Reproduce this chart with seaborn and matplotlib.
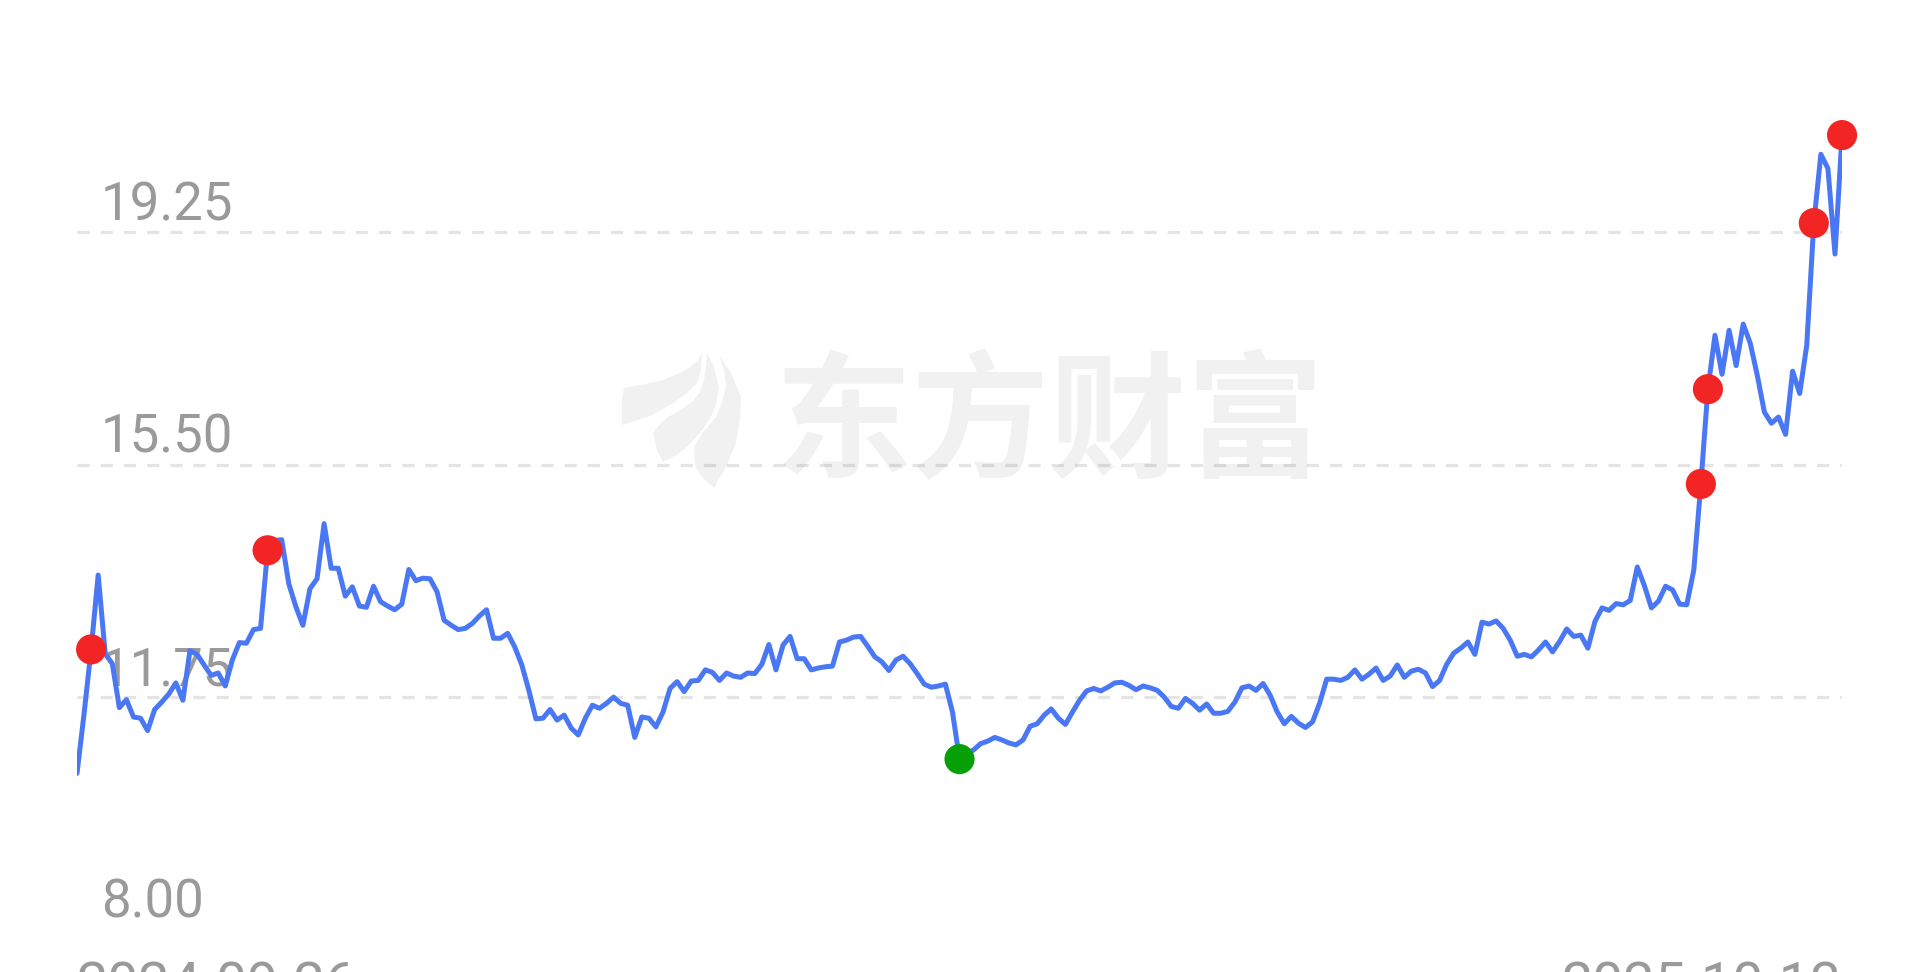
import numpy as np
import pandas as pd
import seaborn as sns
import matplotlib
matplotlib.use("Agg")
from matplotlib import pyplot as plt
from matplotlib import transforms as mtransforms
from matplotlib.patches import Polygon

# 收盘价，按交易日顺序（2024-09-26 ~ 2025-10-13）
close = [
    10.52, 11.48, 12.52, 13.72, 12.45, 12.29, 11.58, 11.71, 11.43, 11.41,
    11.21, 11.55, 11.67, 11.80, 11.98, 11.70, 12.50, 12.44, 12.27, 12.10,
    12.14, 11.93, 12.35, 12.63, 12.62, 12.84, 12.86, 14.12, 14.28, 14.29,
    13.58, 13.21, 12.91, 13.50, 13.66, 14.55, 13.83, 13.83, 13.38, 13.53,
    13.22, 13.20, 13.54, 13.29, 13.22, 13.16, 13.25, 13.81, 13.63, 13.67,
    13.66, 13.45, 12.99, 12.91, 12.84, 12.86, 12.94, 13.06, 13.16, 12.70,
    12.70, 12.78, 12.56, 12.27, 11.86, 11.40, 11.41, 11.55, 11.38, 11.46,
    11.25, 11.14, 11.41, 11.62, 11.57, 11.65, 11.75, 11.65, 11.62, 11.10,
    11.43, 11.41, 11.27, 11.51, 11.89, 12.00, 11.84, 12.01, 12.02, 12.19,
    12.15, 12.02, 12.14, 12.09, 12.07, 12.14, 12.13, 12.28, 12.60, 12.19,
    12.59, 12.73, 12.37, 12.37, 12.19, 12.22, 12.24, 12.25, 12.64, 12.67,
    12.72, 12.73, 12.57, 12.40, 12.32, 12.18, 12.35, 12.41, 12.29, 12.13,
    11.96, 11.91, 11.93, 11.96, 11.51, 10.75, 10.83, 10.90, 11.00, 11.04,
    11.10, 11.06, 11.01, 10.98, 11.06, 11.28, 11.32, 11.46, 11.56, 11.41,
    11.31, 11.51, 11.70, 11.85, 11.89, 11.85, 11.91, 11.98, 11.99, 11.94,
    11.87, 11.93, 11.90, 11.86, 11.75, 11.60, 11.57, 11.73, 11.65, 11.54,
    11.64, 11.49, 11.49, 11.52, 11.67, 11.90, 11.93, 11.86, 11.97, 11.78,
    11.51, 11.32, 11.44, 11.33, 11.26, 11.35, 11.65, 12.04, 12.04, 12.02,
    12.07, 12.19, 12.04, 12.12, 12.22, 12.02, 12.09, 12.27, 12.07, 12.17,
    12.20, 12.14, 11.92, 12.02, 12.28, 12.46, 12.54, 12.64, 12.44, 12.96,
    12.93, 12.98, 12.86, 12.67, 12.41, 12.44, 12.40, 12.51, 12.64, 12.48,
    12.65, 12.85, 12.73, 12.75, 12.54, 12.97, 13.19, 13.15, 13.26, 13.24,
    13.31, 13.85, 13.55, 13.19, 13.30, 13.54, 13.48, 13.25, 13.24, 13.80,
    15.19, 16.72, 17.59, 16.96, 17.67, 17.10, 17.77, 17.46, 16.94, 16.35,
    16.17, 16.27, 15.99, 17.01, 16.65, 17.43, 19.40, 20.51, 20.28, 18.90,
    20.82,
]
day = list(range(len(close)))

red_days = [2, 27, 230, 231, 246, 250]
green_days = [125]

y_ticks = [8.00, 11.75, 15.50, 19.25]
y_top = 23.0
date_labels = ["2024-09-26", "2025-10-13"]
watermark = "东方财富"

sns.set_style("white")
plt.rcParams["font.family"] = ["Roboto", "Noto Sans CJK SC", "DejaVu Sans"]
plt.rcParams["lines.scale_dashes"] = False

W, H = 1920, 972
fig = plt.figure(figsize=(W / 100, H / 100), dpi=100)
ax = fig.add_axes([0.0401, 0.0437, 0.9193, 0.9563])

df = pd.DataFrame({"day": day, "close": close})
sns.lineplot(data=df, x="day", y="close", ax=ax, color="#4a78f5",
             linewidth=3.6, zorder=3, solid_joinstyle="round",
             solid_capstyle="round")

red = df[df["day"].isin(red_days)]
green = df[df["day"].isin(green_days)]
sns.scatterplot(data=red, x="day", y="close", ax=ax, color="#f22424",
                s=470, edgecolor="none", zorder=4, clip_on=False)
sns.scatterplot(data=green, x="day", y="close", ax=ax, color="#08a008",
                s=470, edgecolor="none", zorder=4, clip_on=False)

ax.set_xlim(0, len(close) - 1)
ax.set_ylim(y_ticks[0], y_top)
ax.set_yticks(y_ticks)
ax.set_yticklabels([])
ax.tick_params(axis="y", length=0)
ax.yaxis.grid(True, color="#e4e4e4", linewidth=2.3, linestyle=(0, (8.8, 7.9)))
ax.yaxis.get_gridlines()[0].set_visible(False)
ax.set_xlabel("")
ax.set_ylabel("")

ax.set_xticks([0, len(close) - 1])
ax.set_xticklabels(date_labels)
ax.tick_params(axis="x", length=0, pad=22, labelsize=40, labelcolor="#9a9a9a")
for lab, ha in zip(ax.get_xticklabels(), ["left", "right"]):
    lab.set_ha(ha)

lift = mtransforms.ScaledTranslation(0, 12 / 100, fig.dpi_scale_trans)
for v in y_ticks:
    ax.text(0.0136, v, f"{v:.2f}", transform=ax.get_yaxis_transform() + lift,
            ha="left", va="baseline", fontsize=38, color="#9a9a9a", zorder=2)

sns.despine(ax=ax, left=True, bottom=True)

# 水印：logo + 文字
def px(points):
    return [(x / W, 1 - y / H) for x, y in points]

logo = [
    [(622, 425), (622, 400), (624, 388), (645, 384), (663, 380), (680, 373),
     (692, 366), (698, 360), (702, 353), (701, 370), (697, 383), (686, 394),
     (672, 404), (650, 416)],
    [(707, 353), (714, 367), (719, 387), (716, 405), (711, 417), (700, 433),
     (687, 447), (675, 456), (663, 462), (657, 450), (653, 433), (660, 424),
     (668, 417), (682, 409), (692, 402), (700, 392), (704, 380), (706, 366)],
    [(719, 355), (731, 373), (741, 397), (740, 420), (736, 443), (726, 467),
     (714, 488), (703, 478), (695, 467), (694, 447), (703, 432), (716, 417),
     (722, 402), (726, 387), (724, 370)],
]
for shape in logo:
    fig.patches.append(Polygon(px(shape), closed=True, transform=fig.transFigure,
                               facecolor="black", alpha=0.055, edgecolor="none",
                               zorder=5))

fig.text(0.5466, 0.561, watermark, family=["Noto Sans CJK SC"], weight="bold",
         fontsize=99, color="black", alpha=0.055, ha="center", va="center",
         zorder=5)

fig.savefig("out.png", dpi=100, facecolor="white")
